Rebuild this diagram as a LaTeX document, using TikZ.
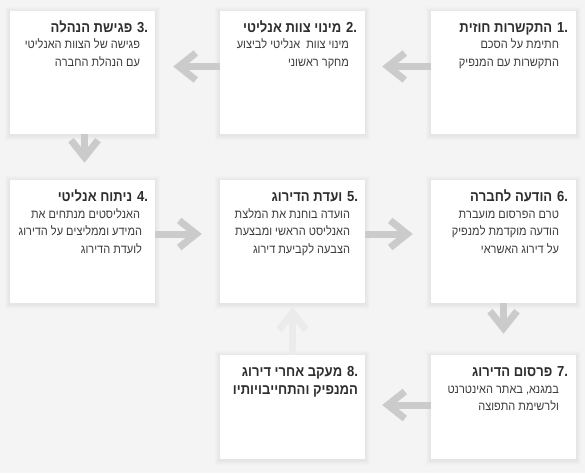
\documentclass[tikz,border=0pt]{standalone}
\usepackage{fontspec}
\setmainfont{Liberation Sans}[FakeStretch=0.9]
\TeXXeTstate=1
\usetikzlibrary{arrows.meta,calc,backgrounds}
\definecolor{bgc}{HTML}{F4F4F4}
\definecolor{arrc}{HTML}{CBCBCB}
\definecolor{arrl}{HTML}{EBEBEB}
\definecolor{ttlc}{HTML}{2E2E2E}
\definecolor{bdyc}{HTML}{3C3C3C}
\tikzset{
  box/.style={fill=white, draw=none, minimum width=145pt, minimum height=123pt, inner sep=0pt},
  boxs/.style={box, minimum height=104pt},
  ttl/.style={anchor=base east, inner sep=0pt, text=ttlc, font=\bfseries\fontsize{14.5}{17}\selectfont},
  bdy/.style={anchor=base east, inner sep=0pt, text=bdyc, font=\fontsize{12.2}{14}\selectfont},
  arr/.style={draw=arrc, line width=7pt, -{Straight Barb[length=17pt, width=27pt, sharp]}},
  arrup/.style={arr, draw=arrl},
}
\begin{document}
\begin{tikzpicture}[x=1pt, y=-1pt]
\useasboundingbox (0,0) rectangle (585,473);
% boxes
\node[box] (b1) at (503.5,72.5) {};
\node[box] (b2) at (292.5,72.5) {};
\node[box] (b3) at (82.5,72.5) {};
\node[box] (b4) at (82.5,241.5) {};
\node[box] (b5) at (292.5,241.5) {};
\node[box] (b6) at (503.5,241.5) {};
\node[boxs] (b7) at (503.5,407) {};
\node[boxs] (b8) at (292.5,407) {};
% background and shadows
\begin{scope}[on background layer]
  \fill[bgc] (0,0) rectangle (585,473);
  \foreach \n in {b1,b2,b3,b4,b5,b6,b7,b8}{
    \foreach \i in {1,...,5}{
      \fill[black, opacity=0.013] ($(\n.south west)+(-\i,\i+1)$) rectangle ($(\n.north east)+(\i,-\i+1)$);
    }
  }
\end{scope}
% box 1
\node[ttl] (t1) at ($(b1.north east)+(-8,22)$) {\beginR 1. התקשרות חוזית\endR};
\node[bdy] (d1a) at ($(b1.north east)+(-17,38)$) {\beginR חתימת על הסכם\endR};
\node[bdy] (d1b) at ($(b1.north east)+(-17,55.5)$) {\beginR התקשרות עם המנפיק\endR};
% box 2
\node[ttl] (t2) at ($(b2.north east)+(-8,22)$) {\beginR 2. מינוי צוות אנליטי\endR};
\node[bdy] (d2a) at ($(b2.north east)+(-16,38)$) {\beginR מינוי צוות~~אנליטי לביצוע\endR};
\node[bdy] (d2b) at ($(b2.north east)+(-16,55.5)$) {\beginR מחקר ראשוני\endR};
% box 3
\node[ttl] (t3) at ($(b3.north east)+(-7,22)$) {\beginR 3. פגישת הנהלה\endR};
\node[bdy] (d3a) at ($(b3.north east)+(-15,38)$) {\beginR פגישה של הצוות האנליטי\endR};
\node[bdy] (d3b) at ($(b3.north east)+(-15,55.5)$) {\beginR עם הנהלת החברה\endR};
% box 4
\node[ttl] (t4) at ($(b4.north east)+(-7,22)$) {\beginR 4. ניתוח אנליטי\endR};
\node[bdy] (d4a) at ($(b4.north east)+(-15,38.5)$) {\beginR האנליסטים מנתחים את\endR};
\node[bdy] (d4b) at ($(b4.north east)+(-13,56)$) {\beginR המידע וממליצים על הדירוג\endR};
\node[bdy] (d4c) at ($(b4.north east)+(-13,73.5)$) {\beginR לועדת הדירוג\endR};
% box 5
\node[ttl] (t5) at ($(b5.north east)+(-7,22)$) {\beginR 5. ועדת הדירוג\endR};
\node[bdy] (d5a) at ($(b5.north east)+(-15,38.5)$) {\beginR הועדה בוחנת את המלצת\endR};
\node[bdy] (d5b) at ($(b5.north east)+(-15,56)$) {\beginR האנליסט הראשי ומבצעת\endR};
\node[bdy] (d5c) at ($(b5.north east)+(-15,73.5)$) {\beginR הצבעה לקביעת דירוג\endR};
% box 6
\node[ttl] (t6) at ($(b6.north east)+(-8,22)$) {\beginR 6. הודעה לחברה\endR};
\node[bdy] (d6a) at ($(b6.north east)+(-17,38.5)$) {\beginR טרם הפרסום מועברת\endR};
\node[bdy] (d6b) at ($(b6.north east)+(-17,56)$) {\beginR הודעה מוקדמת למנפיק\endR};
\node[bdy] (d6c) at ($(b6.north east)+(-17,73.5)$) {\beginR על דירוג האשראי\endR};
% box 7
\node[ttl] (t7) at ($(b7.north east)+(-8,22)$) {\beginR 7. פרסום הדירוג\endR};
\node[bdy] (d7a) at ($(b7.north east)+(-17,38.5)$) {\beginR במגנא, באתר האינטרנט\endR};
\node[bdy] (d7b) at ($(b7.north east)+(-17,56)$) {\beginR ולרשימת התפוצה\endR};
% box 8
\node[ttl] (t8a) at ($(b8.north east)+(-7,22)$) {\beginR 8. מעקב אחרי דירוג\endR};
\node[ttl] (t8b) at ($(b8.north east)+(-7,40)$) {\beginR המנפיק והתחייבויותיו\endR};
% arrows
\draw[arr] ($(b1.west)+(0,-6)$) -- ($(b2.east)+(17,-6)$);
\draw[arr] ($(b2.west)+(0,-6)$) -- ($(b3.east)+(18,-6)$);
\draw[arr] ($(b3.south)+(2,0)$) -- ($(b4.north)+(2,-17)$);
\draw[arr] ($(b4.east)+(0,-7.5)$) -- ($(b5.west)+(-18,-7.5)$);
\draw[arr] ($(b5.east)+(0,-7.5)$) -- ($(b6.west)+(-18,-7.5)$);
\draw[arr] (b6.south) -- ($(b7.north)+(0,-21)$);
\draw[arr] ($(b7.west)+(0,-2)$) -- ($(b8.east)+(17,-2)$);
\draw[arrup] (b8.north) -- ($(b5.south)+(0,4)$);
\end{tikzpicture}
\end{document}
